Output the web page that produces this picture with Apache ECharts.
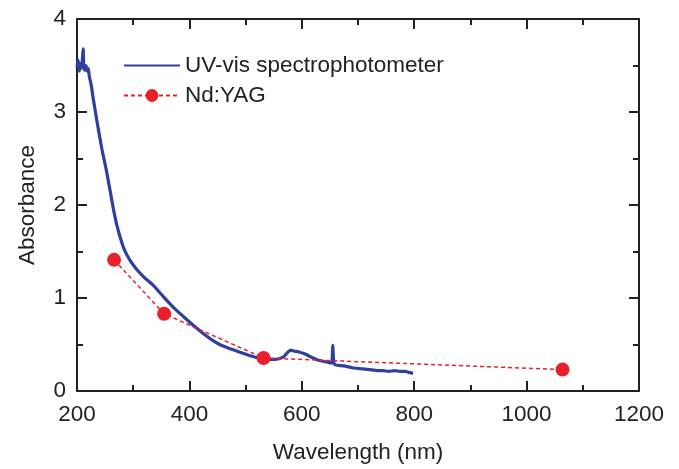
<!DOCTYPE html>
<html>
<head>
  <meta charset="utf-8" />
  <title>Absorbance</title>
  <script src="https://cdn.jsdelivr.net/npm/echarts@6/dist/echarts.min.js"></script>
  <style>
    html, body { margin: 0; padding: 0; background: #fff; }
  </style>
</head>
<body>
  <div id="main" style="width: 679px; height: 469px"></div>
  <script>
    // UV-vis spectrophotometer trace
    let uvWavelength = [200, 202, 204, 206, 208, 210, 211, 212, 214, 216, 218, 220, 222, 225, 229, 235, 244, 252, 259, 265,
      271, 278, 285, 295, 306, 320, 335, 350, 365, 380, 395, 410, 424, 440, 454, 470, 484, 498, 513, 525,
      537, 550, 561, 568, 574, 580, 586, 595, 605, 615, 630, 645, 653, 655, 657, 660, 675, 690, 704, 720,
      735, 744, 755, 765, 775, 785, 790, 798];
    let uvAbsorbance = [3.48, 3.56, 3.44, 3.52, 3.47, 3.60, 3.68, 3.50, 3.45, 3.50, 3.44, 3.47, 3.38, 3.30, 3.14, 2.92, 2.61, 2.38, 2.15, 1.95,
      1.78, 1.63, 1.51, 1.40, 1.31, 1.22, 1.14, 1.04, 0.94, 0.85, 0.77, 0.69, 0.62, 0.55, 0.50, 0.46, 0.43, 0.40, 0.37, 0.35,
      0.34, 0.34, 0.35, 0.37, 0.41, 0.44, 0.43, 0.42, 0.40, 0.37, 0.33, 0.31, 0.30, 0.49, 0.30, 0.28, 0.27, 0.25, 0.24, 0.23,
      0.22, 0.22, 0.21, 0.22, 0.21, 0.21, 0.20, 0.19];

    // Nd:YAG harmonics
    let yagWavelength = [266, 355, 532, 1064];
    let yagAbsorbance = [1.41, 0.83, 0.355, 0.23];

    let font = "Liberation Sans, Arial, sans-serif";
    let ink = "#222";
    let fs = 22.5;

    function zip(xs, ys) {
      return xs.map(function (x, i) { return [x, ys[i]]; });
    }

    let frame = { show: true, onZero: false, lineStyle: { color: ink, width: 2 } };
    let majorTick = { show: true, inside: true, length: 10, lineStyle: { color: ink, width: 2 } };
    let minorTick = { show: true, splitNumber: 2, length: 6, lineStyle: { color: ink, width: 2 } };

    option = {
      animation: false,
      grid: { left: 77, right: 40, top: 19, bottom: 74 },
      legend: {
        orient: "vertical",
        left: 118,
        top: 49,
        itemGap: 7,
        itemWidth: 56,
        itemHeight: 16,
        textStyle: { fontFamily: font, fontSize: fs, color: ink },
        data: [
          { name: "UV-vis spectrophotometer", itemStyle: { opacity: 0 } },
          { name: "Nd:YAG" },
        ],
      },
      xAxis: [
        {
          type: "value",
          min: 200,
          max: 1200,
          interval: 200,
          position: "bottom",
          name: "Wavelength (nm)",
          nameLocation: "middle",
          nameGap: 50,
          nameTextStyle: { fontFamily: font, fontSize: fs, color: ink },
          axisLine: frame,
          axisTick: majorTick,
          minorTick: minorTick,
          axisLabel: { fontFamily: font, fontSize: fs, color: ink, margin: 12, formatter: function (v) { return String(v); } },
          splitLine: { show: false },
        },
        {
          type: "value",
          min: 200,
          max: 1200,
          interval: 200,
          position: "top",
          axisLine: frame,
          axisTick: majorTick,
          minorTick: minorTick,
          axisLabel: { show: false },
          splitLine: { show: false },
        },
      ],
      yAxis: [
        {
          type: "value",
          min: 0,
          max: 4,
          interval: 1,
          position: "left",
          name: "Absorbance",
          nameLocation: "middle",
          nameGap: 38,
          nameTextStyle: { fontFamily: font, fontSize: fs, color: ink },
          axisLine: frame,
          axisTick: majorTick,
          minorTick: minorTick,
          axisLabel: { fontFamily: font, fontSize: fs, color: ink, margin: 11 },
          splitLine: { show: false },
        },
        {
          type: "value",
          min: 0,
          max: 4,
          interval: 1,
          position: "right",
          axisLine: frame,
          axisTick: majorTick,
          minorTick: minorTick,
          axisLabel: { show: false },
          splitLine: { show: false },
        },
      ],
      series: [
        {
          name: "UV-vis spectrophotometer",
          type: "line",
          symbol: "none",
          smooth: 0.2,
          color: "#2f3f9e",
          lineStyle: { color: "#2f3f9e", width: 3.2 },
          data: zip(uvWavelength, uvAbsorbance),
          z: 3,
        },
        {
          name: "Nd:YAG",
          type: "line",
          symbol: "circle",
          symbolSize: 14,
          color: "#e8202a",
          itemStyle: { color: "#e8202a" },
          lineStyle: { color: "#e8202a", width: 1.5, type: [4, 3] },
          data: zip(yagWavelength, yagAbsorbance),
          z: 4,
        },
      ],
    };

    chartLine = echarts.init(document.getElementById("main"));
    chartLine.setOption(option);
  </script>
</body>
</html>
